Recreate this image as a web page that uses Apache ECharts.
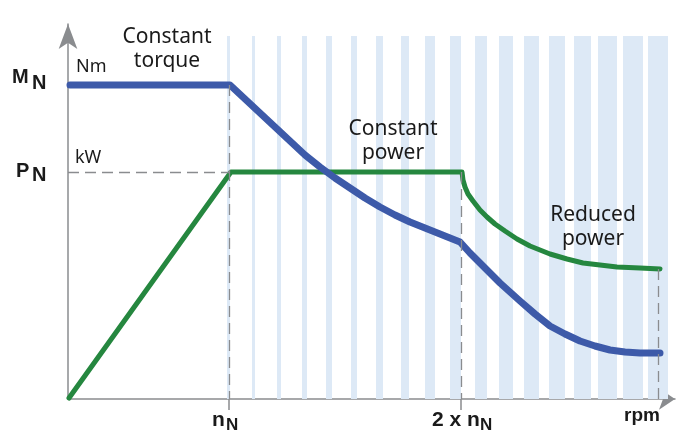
<!DOCTYPE html>
<html><head><meta charset="utf-8">
<script src="https://cdn.jsdelivr.net/npm/echarts@6/dist/echarts.min.js"></script>
<style>html,body{margin:0;padding:0;background:#fff}#c{width:683px;height:430px}</style>
</head><body><div id="c"></div>
<script>
// speed axis in arbitrary units (0 = standstill), value axis in arbitrary units
const stripeStart = [159,184,209,234,258,283,308,333,357,382,407,431,456,481,506,530,555,580];
const stripeWidth = [3,3,4,5,6,6,7,8,10,11,12,14,15,16,17,19,20,20];
const stripeTop = 363;

const torqueX = [2,162,177,192,207,222,237,252,267,282,297,312,327,342,357,372,382,392,402,412,422,432,442,452,467,482,497,512,527,542,557,572,592];
const torqueY = [314,314,300,286,272,258,244,232,221,211,201,192,184,177,171,165,161,157,146,136,126,116,107,98,85,73,65,58,53,49,47,46,46];

const powerX = [1,163,394,395,397,400,405,412,419,427,437,449,462,482,499,515,532,549,572,592];
const powerY = [1,227,227,219,212,205,198,189,182,175,168,160,153,145,140,136,134,132,131,130];

const nN = 161, twoNN = 393, xEnd = 590;
const ratedTorque = 314, ratedPower = 227, endPower = 130;

const xTickValues = [nN, twoNN];
const xTickLabels = ['n', '2 x n'];
const xTickSubs = ['N', 'N'];
const yTickLabels = ['M', 'P'];
const yTickSubs = ['N', 'N'];
const unitLabels = ['Nm', 'kW'];
const regionLabels = ['Constant\ntorque', 'Constant\npower', 'Reduced\npower'];
const speedUnit = 'rpm';

const AX = '#8a8c8f';
const BLUE = '#3d5aa9';
const GREEN = '#25873f';
const STRIPE = '#dde9f6';
const TXT = '#1a1a1a';

const chart = echarts.init(document.getElementById('c'), null, {renderer: 'canvas'});

const zip = (xs, ys) => xs.map((x, i) => [x, ys[i]]);

const boldLbl = {fontFamily: 'Liberation Sans, Arial, sans-serif', fontWeight: 'bold', fill: TXT};
const regLbl = {fontFamily: 'Noto Sans, sans-serif', fontSize: 21, fill: TXT, lineHeight: 24, align: 'center', verticalAlign: 'top'};
const T = (pos, style) => Object.assign({type: 'text', z: 100, silent: true}, pos, {style: style});

const graphic = [
  T({left: 12, top: 67}, Object.assign({text: yTickLabels[0], fontSize: 20}, boldLbl)),
  T({left: 32, top: 73}, Object.assign({text: yTickSubs[0], fontSize: 20}, boldLbl)),
  T({left: 16, top: 161}, Object.assign({text: yTickLabels[1], fontSize: 20}, boldLbl)),
  T({left: 32, top: 165}, Object.assign({text: yTickSubs[1], fontSize: 20}, boldLbl)),
  T({left: 76, top: 58}, {text: unitLabels[0], fontFamily: 'Noto Sans, sans-serif', fontSize: 18, fill: TXT}),
  T({left: 75, top: 149}, {text: unitLabels[1], fontFamily: 'Noto Sans, sans-serif', fontSize: 18, fill: TXT}),
  T({left: 212, top: 410}, Object.assign({text: xTickLabels[0], fontSize: 21}, boldLbl)),
  T({left: 226, top: 417}, Object.assign({text: xTickSubs[0], fontSize: 17}, boldLbl)),
  T({left: 432, top: 410}, Object.assign({text: xTickLabels[1], fontSize: 21}, boldLbl)),
  T({left: 480, top: 417}, Object.assign({text: xTickSubs[1], fontSize: 17}, boldLbl)),
  T({left: 624, top: 406}, Object.assign({text: speedUnit, fontSize: 19}, boldLbl)),
  T({x: 167, y: 25}, Object.assign({text: regionLabels[0]}, regLbl)),
  T({x: 393, y: 117}, Object.assign({text: regionLabels[1]}, regLbl)),
  T({x: 593, y: 203}, Object.assign({text: regionLabels[2]}, regLbl))
];

const option = {
  animation: false,
  backgroundColor: '#ffffff',
  grid: {left: 68, right: 8, top: 24, bottom: 31, containLabel: false},
  xAxis: {
    type: 'value', min: 0, max: 607,
    axisLine: {show: true, onZero: true, symbol: ['none', 'arrow'], symbolSize: [16, 16], lineStyle: {color: AX, width: 1.5}},
    axisTick: {show: true, customValues: xTickValues, length: 11, lineStyle: {color: AX, width: 1.5}},
    axisLabel: {show: false},
    splitLine: {show: false}
  },
  yAxis: {
    type: 'value', min: 0, max: 375,
    axisLine: {show: true, symbol: ['none', 'arrow'], symbolSize: [14, 25], lineStyle: {color: AX, width: 1.5}},
    axisTick: {show: false},
    axisLabel: {show: false},
    splitLine: {show: false}
  },
  graphic: graphic,
  series: [
    {
      type: 'custom', z: 1, silent: true,
      data: stripeStart.map((s, i) => [s, s + stripeWidth[i]]),
      encode: {x: [0, 1]},
      renderItem: function (params, api) {
        const p0 = api.coord([api.value(0), stripeTop]);
        const p1 = api.coord([api.value(1), 0]);
        return {type: 'rect', shape: {x: p0[0], y: p0[1], width: p1[0] - p0[0], height: p1[1] - p0[1]}, style: {fill: STRIPE}};
      }
    },
    {
      type: 'line', z: 2, data: [], silent: true,
      markLine: {
        symbol: ['none', 'none'], silent: true, label: {show: false},
        lineStyle: {color: AX, type: [11, 6], width: 1.3},
        data: [
          [{coord: [0, ratedPower]}, {coord: [nN, ratedPower]}],
          [{coord: [nN, ratedTorque]}, {coord: [nN, 0]}],
          [{coord: [twoNN, ratedPower]}, {coord: [twoNN, 0]}],
          [{coord: [xEnd, endPower]}, {coord: [xEnd, 0]}]
        ]
      }
    },
    {
      type: 'line', z: 3, name: 'Power', data: zip(powerX, powerY), showSymbol: false, clip: false,
      lineStyle: {color: GREEN, width: 5, cap: 'round', join: 'round'}
    },
    {
      type: 'line', z: 4, name: 'Torque', data: zip(torqueX, torqueY), showSymbol: false, clip: false,
      lineStyle: {color: BLUE, width: 7, cap: 'round', join: 'round'}
    }
  ]
};
chart.setOption(option);
</script></body></html>
